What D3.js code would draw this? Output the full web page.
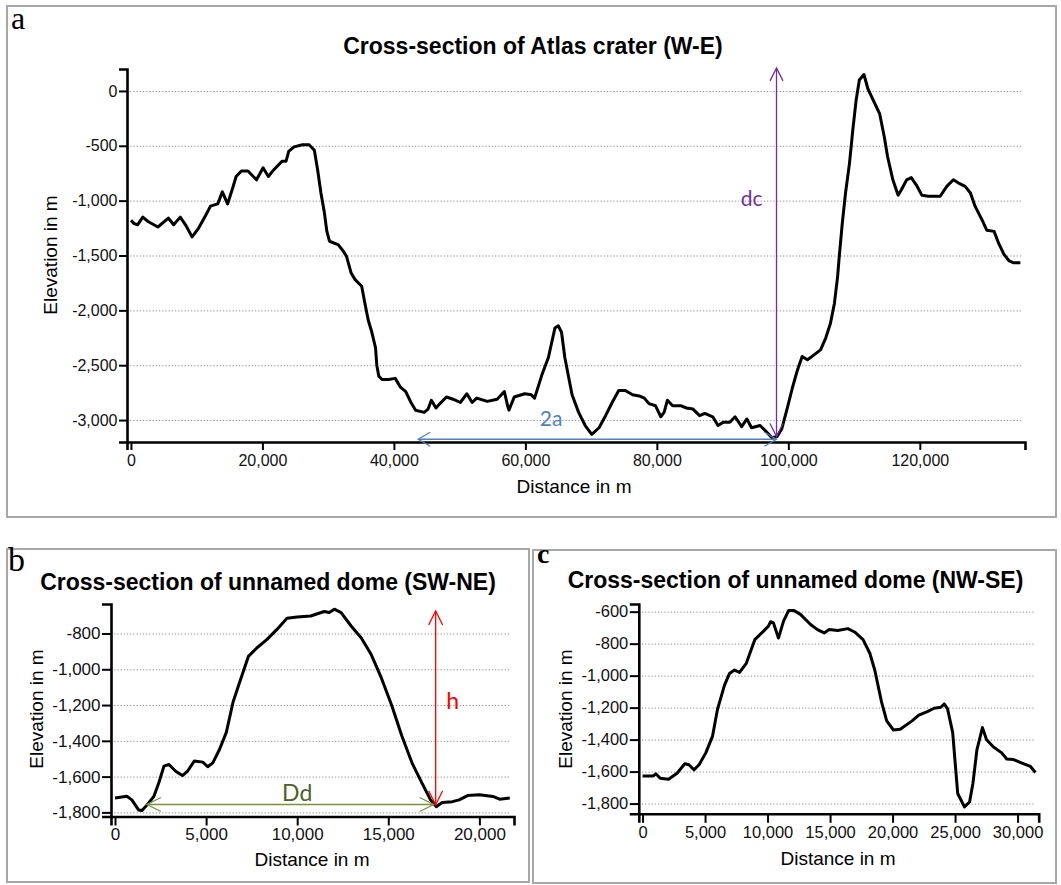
<!DOCTYPE html>
<html>
<head>
<meta charset="utf-8">
<script src="https://cdn.jsdelivr.net/npm/d3@7"></script>
<style>
  body { margin: 0; background: #fff; }
  svg { display: block; }
  .tick text { font-family: "Liberation Sans", Arial, sans-serif; fill: #111; }
  .grid line { stroke: #8c8c8c; stroke-width: 1; stroke-dasharray: 1.2 2; }
  .grid path { display: none; }
</style>
</head>
<body>
<svg id="chart" width="1061" height="885"></svg>
<script>
// ---- panel a : Atlas crater W-E profile ----
var atlasDist = [0,500,1000,1800,2600,4100,5700,6500,7500,8300,9300,10300,11400,12100,13200,13900,14700,15500,16000,16800,17800,19100,20100,20900,21700,23000,23600,24000,24800,26100,27100,27900,28400,28900,29400,29800,30200,31500,32300,32800,33500,34100,35100,35600,36100,36600,37200,37400,37700,38200,39200,40200,41000,41800,42600,43300,44600,45200,45700,46400,47000,48000,49000,50100,51100,51900,52600,54200,55700,56800,57300,57500,58300,59900,60900,61400,62500,63500,64500,65000,65500,66000,67100,68100,69100,70100,71200,72200,73200,74200,75200,76300,77300,78100,78800,79800,80600,81100,81600,82400,83700,84500,85500,86500,87300,88500,89300,90100,91100,91900,92900,93700,94400,95700,96700,97500,98300,99000,99800,100600,101300,102100,102900,103600,104900,105700,106400,107000,107500,107700,108200,108700,109300,109800,110300,110800,111500,112100,112800,113900,114600,115100,115900,116700,117200,118000,118700,119500,120300,121300,123100,124100,125100,125900,126900,127700,128400,129500,130200,131300,132000,132800,133600,134200,135300];
var atlasElev = [-1180,-1210,-1220,-1150,-1190,-1240,-1160,-1220,-1150,-1220,-1330,-1250,-1130,-1050,-1030,-920,-1030,-880,-780,-730,-730,-810,-700,-780,-720,-640,-640,-550,-510,-490,-490,-540,-720,-930,-1100,-1280,-1370,-1400,-1460,-1510,-1660,-1720,-1780,-1940,-2090,-2190,-2340,-2500,-2600,-2630,-2630,-2620,-2700,-2740,-2840,-2910,-2930,-2900,-2820,-2890,-2850,-2790,-2810,-2840,-2760,-2840,-2800,-2830,-2810,-2740,-2870,-2910,-2790,-2760,-2770,-2800,-2590,-2430,-2160,-2140,-2200,-2430,-2770,-2930,-3050,-3130,-3070,-2960,-2840,-2730,-2730,-2770,-2780,-2800,-2850,-2870,-2970,-2930,-2820,-2870,-2870,-2890,-2900,-2960,-2940,-2970,-3050,-3020,-3020,-2970,-3060,-2990,-3070,-3050,-3110,-3160,-3150,-3080,-2900,-2710,-2560,-2420,-2450,-2420,-2360,-2250,-2120,-1940,-1690,-1540,-1210,-930,-660,-360,-90,100,150,20,-70,-210,-420,-600,-810,-950,-900,-810,-790,-860,-950,-960,-960,-870,-810,-840,-870,-930,-1050,-1180,-1270,-1280,-1390,-1490,-1550,-1565,-1565];
var atlasXTicks = [0, 20000, 40000, 60000, 80000, 100000, 120000];
var atlasYTicks = [0, -500, -1000, -1500, -2000, -2500, -3000];

// ---- panel b : unnamed dome SW-NE ----
var domeSWDist = [0,650,925,1300,1480,1760,2130,2400,2690,2960,3330,3700,3980,4350,4820,5090,5370,5740,6110,6480,6850,7320,7780,8330,8890,9440,10000,10740,11480,11760,12040,12410,12960,13520,14070,14630,15190,15740,16300,16850,17320,17630,17960,18520,18890,19350,20000,20740,21110,21670];
var domeSWElev = [-1720,-1710,-1730,-1787,-1790,-1758,-1711,-1636,-1541,-1532,-1570,-1594,-1570,-1513,-1519,-1545,-1523,-1447,-1353,-1183,-1070,-928,-881,-834,-777,-715,-708,-702,-677,-683,-664,-683,-758,-825,-919,-1051,-1202,-1372,-1523,-1636,-1730,-1768,-1745,-1740,-1730,-1706,-1702,-1711,-1726,-1720];
var domeSWXTicks = [0, 5000, 10000, 15000, 20000];
var domeSWYTicks = [-800, -1000, -1200, -1400, -1600, -1800];

// ---- panel c : unnamed dome NW-SE ----
var domeNWDist = [0,870,1060,1410,2080,2760,3380,3710,4110,4520,5060,5600,6000,6550,6950,7360,7760,8300,8980,9660,10060,10250,10470,10870,11280,11690,12090,12630,13440,13990,14530,14930,15610,16420,16960,17640,18180,18580,19120,19530,20070,20610,21560,22100,22780,23320,23860,24130,24400,24810,25210,25750,26160,26430,26750,27190,27510,28050,28730,29130,29680,30350,31030,31430];
var domeNWElev = [-1627,-1627,-1614,-1642,-1648,-1610,-1551,-1557,-1589,-1557,-1483,-1378,-1209,-1061,-987,-965,-980,-923,-775,-723,-691,-663,-670,-765,-659,-592,-592,-617,-680,-712,-733,-712,-718,-706,-727,-775,-860,-966,-1166,-1283,-1340,-1335,-1283,-1247,-1225,-1204,-1198,-1177,-1208,-1356,-1737,-1821,-1790,-1673,-1462,-1325,-1399,-1445,-1483,-1521,-1525,-1547,-1568,-1606];
var domeNWXTicks = [0, 5000, 10000, 15000, 20000, 25000, 30000];
var domeNWYTicks = [-600, -800, -1000, -1200, -1400, -1600, -1800];

var svg = d3.select("#chart");
// plain hyphen for negatives, like the original software
var fmt = d3.formatLocale({decimal: ".", thousands: ",", grouping: [3], currency: ["", ""], minus: "-"}).format(",");
var sansFont = "'Liberation Sans', Arial, sans-serif";
var noteFont = "Lato, 'Open Sans', sans-serif";

function zip(xs, ys) { return xs.map(function (d, i) { return [d, ys[i]]; }); }

// one framed profile panel
function panel(o) {
  svg.append("rect").attr("x", o.box[0]).attr("y", o.box[1])
    .attr("width", o.box[2] - o.box[0]).attr("height", o.box[3] - o.box[1])
    .attr("fill", "none").attr("stroke", "#a8a8a8").attr("stroke-width", 2);

  svg.append("text").attr("x", o.letter[0]).attr("y", o.letter[1])
    .attr("font-family", "'Liberation Serif', 'Times New Roman', serif")
    .attr("font-size", o.letter[2]).attr("font-weight", o.letter[3])
    .text(o.name);

  var x = d3.scaleLinear().domain(o.xDom).range(o.xRange);
  var y = d3.scaleLinear().domain(o.yDom).range(o.yRange);
  var g = svg.append("g");

  g.append("g").attr("class", "grid")
    .attr("transform", "translate(" + o.xRange[0] + ",0)")
    .call(d3.axisLeft(y).tickValues(o.yTicks).tickSize(-(o.xRange[1] - o.xRange[0] - 3)).tickFormat(""));

  var ya = g.append("g").attr("transform", "translate(" + o.xRange[0] + ",0)")
    .call(d3.axisLeft(y).tickValues(o.yTicks).tickFormat(fmt).tickSizeOuter(0).tickSize(o.tick).tickPadding(1.5));
  var xa = g.append("g").attr("transform", "translate(0," + o.yRange[0] + ")")
    .call(d3.axisBottom(x).tickValues(o.xTicks).tickFormat(fmt).tickSizeOuter(0).tickSize(o.tick).tickPadding(o.xPad));
  [ya, xa].forEach(function (a) {
    a.select(".domain").attr("stroke", "#000").attr("stroke-width", 2.6);
    a.selectAll(".tick line").attr("stroke", "#000").attr("stroke-width", 2);
    a.selectAll(".tick text").attr("font-size", o.tickFont);
  });

  g.append("path").datum(zip(o.dist, o.elev))
    .attr("fill", "none").attr("stroke", "#000").attr("stroke-width", 3)
    .attr("stroke-linejoin", "round")
    .attr("d", d3.line().x(function (d) { return x(d[0]); }).y(function (d) { return y(d[1]); }));

  svg.append("text").attr("x", o.title[0]).attr("y", o.title[1])
    .attr("text-anchor", "middle").attr("font-family", sansFont)
    .attr("font-weight", "bold").attr("font-size", o.title[2]).text(o.titleText);
  svg.append("text").attr("x", o.xLab[0]).attr("y", o.xLab[1])
    .attr("text-anchor", "middle").attr("font-family", sansFont)
    .attr("font-size", 19).text("Distance in m");
  svg.append("text").attr("transform", "translate(" + o.yLab[0] + "," + o.yLab[1] + ") rotate(-90)")
    .attr("text-anchor", "middle").attr("font-family", sansFont)
    .attr("font-size", 19).text("Elevation in m");

  return { x: x, y: y, g: g };
}

// double-headed measuring arrow with open V heads
function arrow(p, x0, y0, x1, y1, color, len, hw) {
  var g = p.g.append("g").attr("stroke", color).attr("fill", "none").attr("stroke-width", 1.3);
  var X0 = p.x(x0), Y0 = p.y(y0), X1 = p.x(x1), Y1 = p.y(y1);
  g.append("line").attr("x1", X0).attr("y1", Y0).attr("x2", X1).attr("y2", Y1);
  var a = Math.atan2(Y1 - Y0, X1 - X0);
  [[X0, Y0, a + Math.PI], [X1, Y1, a]].forEach(function (t) {
    var bx = t[0] - len * Math.cos(t[2]), by = t[1] - len * Math.sin(t[2]);
    var nx = -Math.sin(t[2]) * hw, ny = Math.cos(t[2]) * hw;
    g.append("path").attr("d", "M" + (bx + nx) + "," + (by + ny) + "L" + t[0] + "," + t[1] + "L" + (bx - nx) + "," + (by - ny));
  });
}
function note(p, xv, yv, txt, color, size) {
  p.g.append("text").attr("x", p.x(xv)).attr("y", p.y(yv)).attr("text-anchor", "middle")
    .attr("font-family", noteFont).attr("font-size", size).attr("fill", color).text(txt);
}

var pa = panel({
  box: [7, 6, 1056, 517], name: "a", letter: [11, 29, 32, "normal"],
  xDom: [-600, 136000], xRange: [127, 1025], yDom: [-3200, 200], yRange: [442, 69],
  xTicks: atlasXTicks, yTicks: atlasYTicks, dist: atlasDist, elev: atlasElev,
  tick: 8, tickFont: 16, xPad: 5,
  titleText: "Cross-section of Atlas crater (W-E)", title: [533, 54, 23],
  xLab: [574, 493], yLab: [57, 255]
});
arrow(pa, 98200, -3150, 98200, 210, "#7030a0", 13, 6.5);
arrow(pa, 43700, -3175, 98200, -3175, "#4f81bd", 12, 7);
note(pa, 94400, -1050, "dc", "#7030a0", 21);
note(pa, 63900, -3050, "2a", "#4f81bd", 21);

var pb = panel({
  box: [7, 549, 529, 882], name: "b", letter: [8, 571, 34, "normal"],
  xDom: [-220, 21900], xRange: [111, 514], yDom: [-1823, -635], yRange: [816.5, 604],
  xTicks: domeSWXTicks, yTicks: domeSWYTicks, dist: domeSWDist, elev: domeSWElev,
  tick: 9, tickFont: 17, xPad: 2,
  titleText: "Cross-section of unnamed dome (SW-NE)", title: [268, 590, 23],
  xLab: [312, 866], yLab: [43, 709]
});
arrow(pb, 17600, -1757, 17600, -674, "#ff0000", 14, 7);
arrow(pb, 1750, -1756, 17490, -1756, "#77933c", 14, 7);
note(pb, 18530, -1221, "h", "#ff0000", 23);
note(pb, 10000, -1735, "Dd", "#4f6228", 23);

var pc = panel({
  box: [533, 550, 1056, 883], name: "c", letter: [537, 563, 28, "bold"],
  xDom: [-300, 31690], xRange: [638.8, 1038.7], yDom: [-1864, -552], yRange: [813.8, 604],
  xTicks: domeNWXTicks, yTicks: domeNWYTicks, dist: domeNWDist, elev: domeNWElev,
  tick: 9, tickFont: 16.5, xPad: 3,
  titleText: "Cross-section of unnamed dome (NW-SE)", title: [795.5, 588, 23],
  xLab: [838, 865], yLab: [572, 709]
});
</script>
</body>
</html>
